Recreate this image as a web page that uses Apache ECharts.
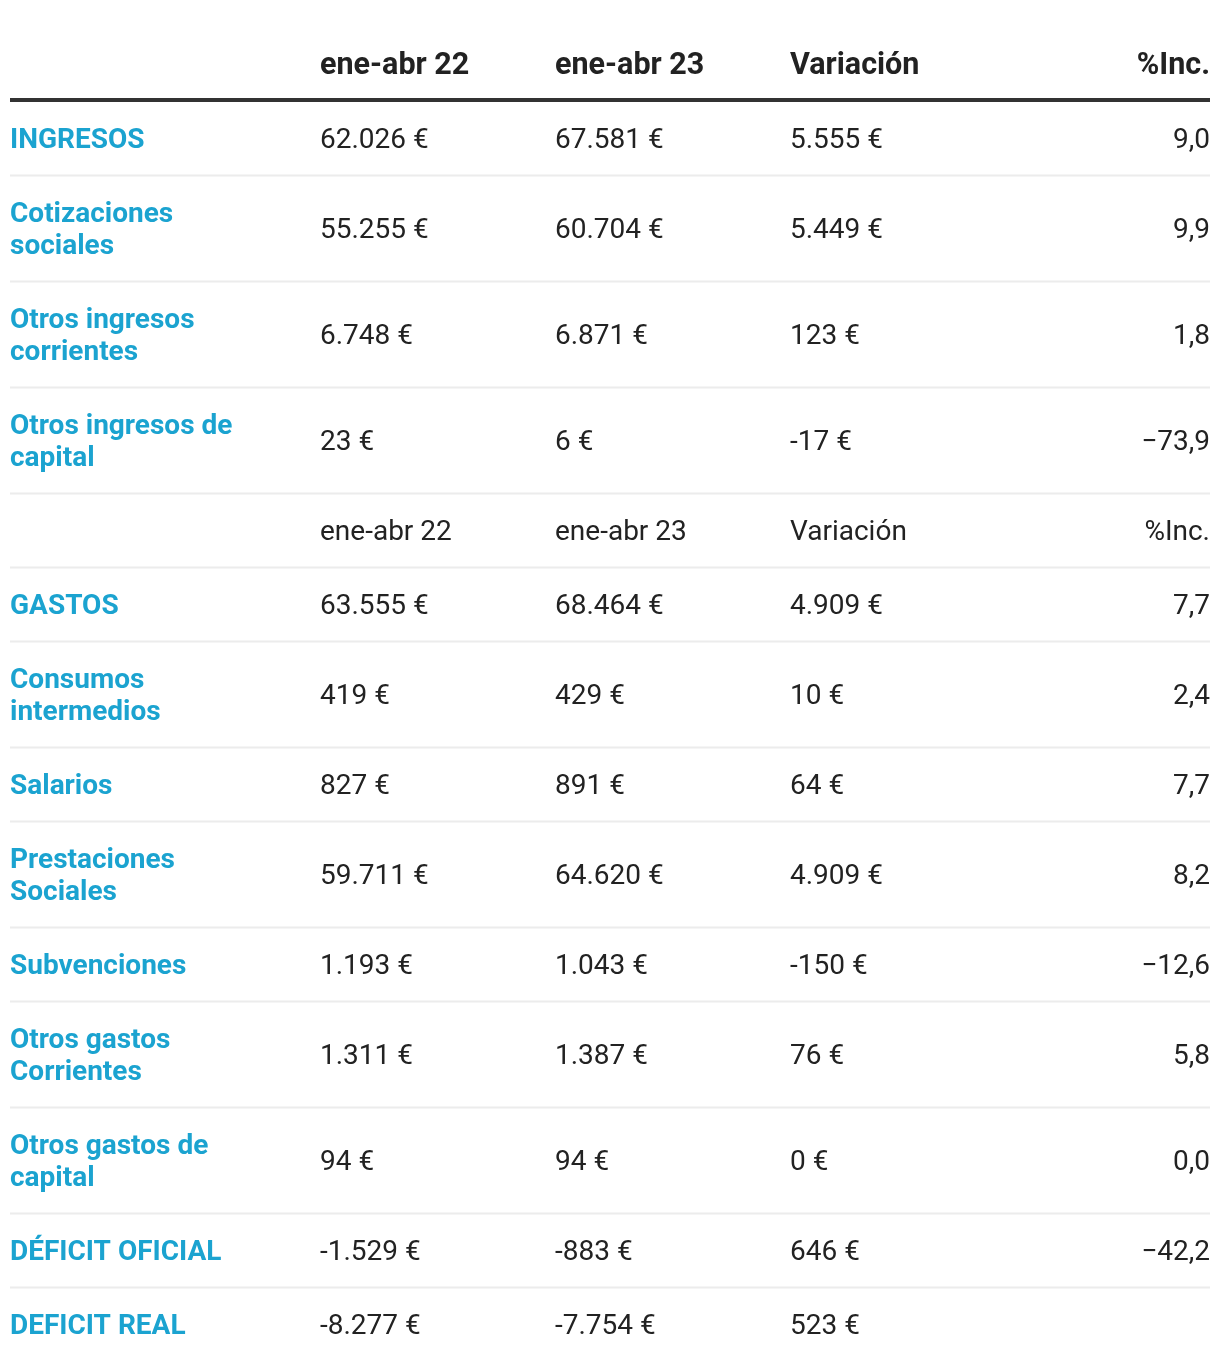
<!DOCTYPE html>
<html>
<head>
<meta charset="utf-8">
<script src="https://cdn.jsdelivr.net/npm/echarts@6/dist/echarts.min.js"></script>
<style>
  html, body { margin: 0; padding: 0; background: #fff; }
  #tabla { width: 1220px; height: 1370px; }
</style>
</head>
<body>
<div id="tabla"></div>
<script>
// columnas
const headers = ['', 'ene-abr 22', 'ene-abr 23', 'Variación', '%Inc.']

// filas (null en etiqueta = fila de cabecera repetida)
const labels = [
  'INGRESOS',
  'Cotizaciones\nsociales',
  'Otros ingresos\ncorrientes',
  'Otros ingresos de\ncapital',
  null,
  'GASTOS',
  'Consumos\nintermedios',
  'Salarios',
  'Prestaciones\nSociales',
  'Subvenciones',
  'Otros gastos\nCorrientes',
  'Otros gastos de\ncapital',
  'DÉFICIT OFICIAL',
  'DEFICIT REAL'
]
const ene22 = ['62.026 €', '55.255 €', '6.748 €', '23 €', null, '63.555 €', '419 €', '827 €', '59.711 €', '1.193 €', '1.311 €', '94 €', '-1.529 €', '-8.277 €']
const ene23 = ['67.581 €', '60.704 €', '6.871 €', '6 €', null, '68.464 €', '429 €', '891 €', '64.620 €', '1.043 €', '1.387 €', '94 €', '-883 €', '-7.754 €']
const variacion = ['5.555 €', '5.449 €', '123 €', '-17 €', null, '4.909 €', '10 €', '64 €', '4.909 €', '-150 €', '76 €', '0 €', '646 €', '523 €']
const pctInc = ['9,0', '9,9', '1,8', '−73,9', null, '7,7', '2,4', '7,7', '8,2', '−12,6', '5,8', '0,0', '−42,2', '']

const chart = echarts.init(document.getElementById('tabla'))

const LEFT = 10
const RIGHT = 1210
const colX = [10, 320, 555, 790]
const FONT = 'Roboto, "Noto Sans", sans-serif'
const BLUE = '#1ba3d0'
const DARK = '#222'

const elements = []

function txt (x, y, text, style, align) {
  elements.push({
    type: 'text',
    x: x,
    y: y,
    style: Object.assign({
      text: text,
      fontFamily: FONT,
      fontSize: 28,
      fill: DARK,
      align: align || 'left',
      verticalAlign: 'middle',
      lineHeight: 32
    }, style)
  })
}

function hline (y, width, color) {
  elements.push({
    type: 'line',
    shape: { x1: LEFT, y1: y, x2: RIGHT, y2: y },
    style: { stroke: color, lineWidth: width }
  })
}

// cabecera
const headY = 66
const headStyle = { fontWeight: 'bold', fontSize: 30.5, lineHeight: 36 }
headers.forEach(function (h, i) {
  if (i < 4) txt(colX[i], headY, h, headStyle)
  else txt(RIGHT, headY, h, headStyle, 'right')
})
hline(100, 4, '#333')

// filas
let y = 102
labels.forEach(function (label, i) {
  const twoLines = label && label.indexOf('\n') >= 0
  const h = twoLines ? 106 : 74
  const cy = y + h / 2 + 2
  if (label === null) {
    headers.forEach(function (hd, j) {
      if (j === 0) return
      if (j < 4) txt(colX[j], cy, hd, {})
      else txt(RIGHT, cy, hd, {}, 'right')
    })
  } else {
    txt(colX[0], cy, label, { fontWeight: 'bold', fill: BLUE })
    txt(colX[1], cy, ene22[i], {})
    txt(colX[2], cy, ene23[i], {})
    txt(colX[3], cy, variacion[i], {})
    txt(RIGHT, cy, pctInc[i], {}, 'right')
  }
  y += h
  if (i < labels.length - 1) hline(y - 0.5, 2, '#ececec')
})

chart.setOption({
  animation: false,
  graphic: { elements: elements }
})
</script>
</body>
</html>
